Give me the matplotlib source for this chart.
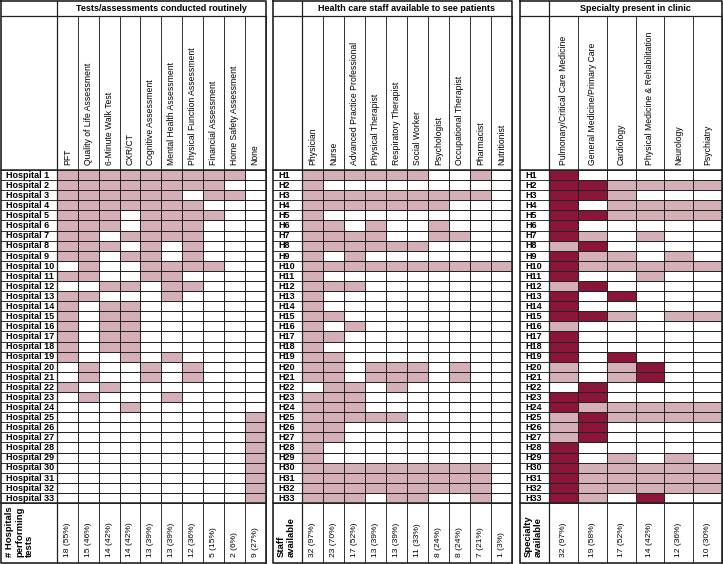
import numpy as np
import matplotlib
matplotlib.use("Agg")
import matplotlib.pyplot as plt
from matplotlib.colors import ListedColormap

plt.rcParams['font.family'] = ['Liberation Sans', 'DejaVu Sans']

# ---- data ----
test_titles = "Tests/assessments conducted routinely"
test_cols = ["PFT", "Quality of Life Assessment", "6-Minute Walk Test", "CXR/CT",
             "Cognitive Assessment", "Mental Health Assessment",
             "Physical Function Assessment", "Financial Assessment",
             "Home Safety Assessment", "None"]
test_counts = ["18 (55%)", "15 (46%)", "14 (42%)", "14 (42%)", "13 (39%)",
               "13 (39%)", "12 (36%)", "5 (15%)", "2 (6%)", "9 (27%)"]
tests = [
    [1, 1, 1, 1, 1, 1, 1, 1, 1, 0],
    [1, 1, 1, 1, 1, 1, 1, 1, 0, 0],
    [1, 1, 1, 1, 1, 1, 0, 1, 1, 0],
    [1, 1, 1, 1, 1, 1, 1, 0, 0, 0],
    [1, 1, 1, 0, 1, 1, 1, 1, 0, 0],
    [1, 1, 1, 0, 1, 1, 1, 0, 0, 0],
    [1, 1, 0, 1, 1, 1, 1, 0, 0, 0],
    [1, 1, 1, 0, 1, 0, 1, 0, 0, 0],
    [1, 1, 0, 1, 1, 0, 1, 0, 0, 0],
    [0, 1, 0, 0, 1, 1, 1, 1, 0, 0],
    [1, 1, 0, 0, 1, 1, 0, 0, 0, 0],
    [0, 0, 1, 1, 0, 1, 1, 0, 0, 0],
    [1, 1, 0, 0, 0, 1, 0, 0, 0, 0],
    [1, 0, 1, 1, 0, 0, 0, 0, 0, 0],
    [1, 0, 1, 1, 0, 0, 0, 0, 0, 0],
    [1, 0, 1, 1, 0, 0, 0, 0, 0, 0],
    [1, 0, 1, 1, 0, 0, 0, 0, 0, 0],
    [1, 0, 1, 1, 0, 0, 0, 0, 0, 0],
    [1, 0, 0, 1, 0, 1, 0, 0, 0, 0],
    [0, 1, 0, 0, 1, 0, 1, 0, 0, 0],
    [0, 1, 0, 0, 1, 0, 1, 0, 0, 0],
    [1, 0, 1, 0, 0, 0, 0, 0, 0, 0],
    [0, 1, 0, 0, 0, 1, 0, 0, 0, 0],
    [0, 0, 0, 1, 0, 0, 0, 0, 0, 0],
    [0, 0, 0, 0, 0, 0, 0, 0, 0, 1],
    [0, 0, 0, 0, 0, 0, 0, 0, 0, 1],
    [0, 0, 0, 0, 0, 0, 0, 0, 0, 1],
    [0, 0, 0, 0, 0, 0, 0, 0, 0, 1],
    [0, 0, 0, 0, 0, 0, 0, 0, 0, 1],
    [0, 0, 0, 0, 0, 0, 0, 0, 0, 1],
    [0, 0, 0, 0, 0, 0, 0, 0, 0, 1],
    [0, 0, 0, 0, 0, 0, 0, 0, 0, 1],
    [0, 0, 0, 0, 0, 0, 0, 0, 0, 1],
]

staff_title = "Health care staff available to see patients"
staff_cols = ["Physician", "Nurse", "Advanced Practice Professional",
              "Physical Therapist", "Respiratory Therapist", "Social Worker",
              "Psychologist", "Occupational Therapist", "Pharmacist", "Nutritionist"]
staff_counts = ["32 (97%)", "23 (70%)", "17 (52%)", "13 (39%)", "13 (39%)",
                "11 (33%)", "8 (24%)", "8 (24%)", "7 (21%)", "1 (3%)"]
staff = [
    [1, 1, 1, 1, 1, 1, 0, 0, 1, 0],
    [1, 0, 0, 0, 0, 0, 0, 0, 0, 0],
    [1, 1, 1, 1, 1, 1, 1, 1, 1, 0],
    [1, 1, 1, 1, 1, 1, 1, 0, 0, 0],
    [1, 0, 0, 0, 0, 0, 0, 0, 0, 0],
    [1, 1, 0, 1, 0, 0, 1, 0, 0, 0],
    [1, 1, 1, 1, 0, 0, 1, 1, 0, 0],
    [1, 1, 1, 1, 1, 1, 0, 0, 0, 0],
    [1, 0, 1, 0, 0, 0, 0, 0, 0, 0],
    [1, 1, 1, 1, 1, 1, 1, 1, 1, 1],
    [1, 0, 0, 0, 0, 0, 0, 0, 0, 0],
    [1, 1, 1, 0, 0, 0, 0, 0, 0, 0],
    [1, 0, 0, 0, 0, 0, 0, 0, 0, 0],
    [1, 0, 0, 0, 0, 0, 0, 0, 0, 0],
    [1, 1, 0, 0, 0, 0, 0, 0, 0, 0],
    [1, 0, 1, 0, 0, 0, 0, 0, 0, 0],
    [1, 1, 0, 0, 0, 0, 0, 0, 0, 0],
    [1, 0, 0, 0, 0, 0, 0, 0, 0, 0],
    [1, 1, 0, 0, 0, 0, 0, 0, 0, 0],
    [1, 1, 0, 1, 1, 1, 0, 1, 0, 0],
    [1, 1, 0, 1, 1, 1, 0, 1, 0, 0],
    [0, 1, 1, 0, 1, 0, 0, 0, 0, 0],
    [1, 1, 1, 0, 0, 0, 0, 0, 0, 0],
    [1, 1, 1, 0, 0, 0, 0, 0, 0, 0],
    [1, 1, 1, 1, 1, 0, 0, 0, 0, 0],
    [1, 1, 0, 0, 0, 0, 0, 0, 0, 0],
    [1, 1, 0, 0, 0, 0, 0, 0, 0, 0],
    [1, 0, 0, 0, 0, 0, 0, 0, 0, 0],
    [1, 0, 0, 0, 0, 0, 0, 0, 0, 0],
    [1, 1, 1, 1, 1, 1, 1, 1, 1, 0],
    [1, 1, 1, 1, 1, 1, 1, 1, 1, 0],
    [1, 1, 1, 1, 1, 1, 1, 1, 1, 0],
    [1, 1, 1, 0, 1, 1, 0, 0, 1, 0],
]

spec_title = "Specialty present in clinic"
spec_cols = ["Pulmonary/Critical Care Medicine", "General Medicine/Primary Care",
             "Cardiology", "Physical Medicine & Rehabilitation", "Neurology",
             "Psychiatry"]
spec_counts = ["32 (97%)", "19 (58%)", "17 (52%)", "14 (42%)", "12 (36%)", "10 (30%)"]
# 0 = absent, 1 = present, 2 = present (dark highlight)
spec = [
    [2, 0, 0, 0, 0, 0],
    [2, 2, 1, 1, 1, 1],
    [2, 2, 1, 0, 0, 0],
    [2, 0, 1, 1, 1, 1],
    [2, 2, 1, 1, 1, 1],
    [2, 0, 0, 0, 0, 0],
    [2, 1, 0, 1, 0, 0],
    [1, 2, 0, 0, 0, 0],
    [2, 1, 1, 0, 1, 0],
    [2, 1, 1, 1, 1, 1],
    [2, 0, 0, 1, 0, 0],
    [1, 2, 0, 0, 0, 0],
    [2, 0, 2, 0, 0, 0],
    [2, 0, 0, 0, 0, 0],
    [2, 2, 1, 0, 1, 1],
    [1, 0, 0, 0, 0, 0],
    [2, 0, 0, 0, 0, 0],
    [2, 0, 0, 0, 0, 0],
    [2, 0, 2, 0, 0, 0],
    [1, 0, 1, 2, 0, 0],
    [1, 0, 1, 2, 0, 0],
    [0, 2, 0, 0, 0, 0],
    [2, 2, 0, 0, 0, 0],
    [2, 1, 1, 1, 1, 1],
    [1, 2, 1, 1, 1, 1],
    [1, 2, 0, 0, 0, 0],
    [1, 2, 0, 0, 0, 0],
    [2, 0, 0, 0, 0, 0],
    [2, 0, 1, 0, 1, 0],
    [2, 1, 1, 1, 1, 1],
    [2, 1, 1, 1, 1, 1],
    [2, 1, 1, 1, 1, 1],
    [2, 1, 0, 2, 0, 0],
]

n_hosp = 33
long_names = [f"Hospital {i}" for i in range(1, n_hosp + 1)]
short_names = [f"H{i}" for i in range(1, n_hosp + 1)]

# ---- layout (pixels) ----
W, H = 723, 564
y_top, y_title, y_head, y_data_end, y_bot = 1, 15.5, 170, 503, 563
LIGHT = "#d4b0b6"
DARK = "#8a1539"
LINE = "#222222"
cmap = ListedColormap(["white", LIGHT, DARK])

fig = plt.figure(figsize=(W / 100, H / 100), dpi=100)
ax = fig.add_axes([0, 0, 1, 1])
ax.set_xlim(0, W)
ax.set_ylim(H, 0)
ax.axis("off")


def panel(x0, xl, x1, title, cols, counts, mat, names, foot_label):
    mat = np.array(mat)
    ncol = len(cols)
    xe = np.linspace(xl, x1, ncol + 1)
    ye = np.linspace(y_head, y_data_end, n_hosp + 1)
    ax.pcolormesh(xe, ye, mat, cmap=cmap, vmin=0, vmax=2,
                  edgecolors=LINE, linewidth=0.65)
    # row label grid
    for y in ye:
        ax.plot([x0, xl], [y, y], color=LINE, lw=0.65)
    # column lines through header and footer
    for x in xe:
        ax.plot([x, x], [y_title, y_bot], color=LINE, lw=0.65)
    ax.plot([xl, xl], [y_top, y_bot], color=LINE, lw=0.9)
    ax.plot([x0, x1], [y_title, y_title], color=LINE, lw=0.9)
    ax.plot([x0, x1], [y_head, y_head], color=LINE, lw=1.1)
    ax.plot([x0, x1], [y_data_end, y_data_end], color=LINE, lw=1.1)
    ax.plot([x0, x1, x1, x0, x0], [y_top, y_top, y_bot, y_bot, y_top],
            color=LINE, lw=1.2)
    ax.text((xl + x1) / 2, (y_top + y_title) / 2 + 0.5, title, ha="center",
            va="center", fontsize=6.5, fontweight="bold")
    centers = (xe[:-1] + xe[1:]) / 2
    for cx, lab, cnt in zip(centers, cols, counts):
        ax.text(cx, y_head - 5, lab, rotation=90, ha="center", va="bottom",
                fontsize=6.2)
        ax.text(cx, y_bot - 6, cnt, rotation=90, ha="center", va="bottom",
                fontsize=6.1)
    ym = (ye[:-1] + ye[1:]) / 2
    for yy, nm in zip(ym, names):
        ax.text(x0 + 5, yy + 0.3, nm, ha="left", va="center", fontsize=6.5,
                fontweight="bold")
    ax.text(x0 + 4, y_bot - 6, foot_label, rotation=90, ha="left", va="bottom",
            fontsize=6.8, fontweight="bold", linespacing=1.15,
            multialignment="left")


panel(1, 57, 265.5, test_titles, test_cols, test_counts, tests, long_names,
      "# Hospitals\nperforming\ntests")
panel(273, 302, 512, staff_title, staff_cols, staff_counts, staff, short_names,
      "Staff\navailable")
panel(520, 549, 722, spec_title, spec_cols, spec_counts, spec, short_names,
      "Specialty\navailable")

fig.savefig("out.png", dpi=100)
